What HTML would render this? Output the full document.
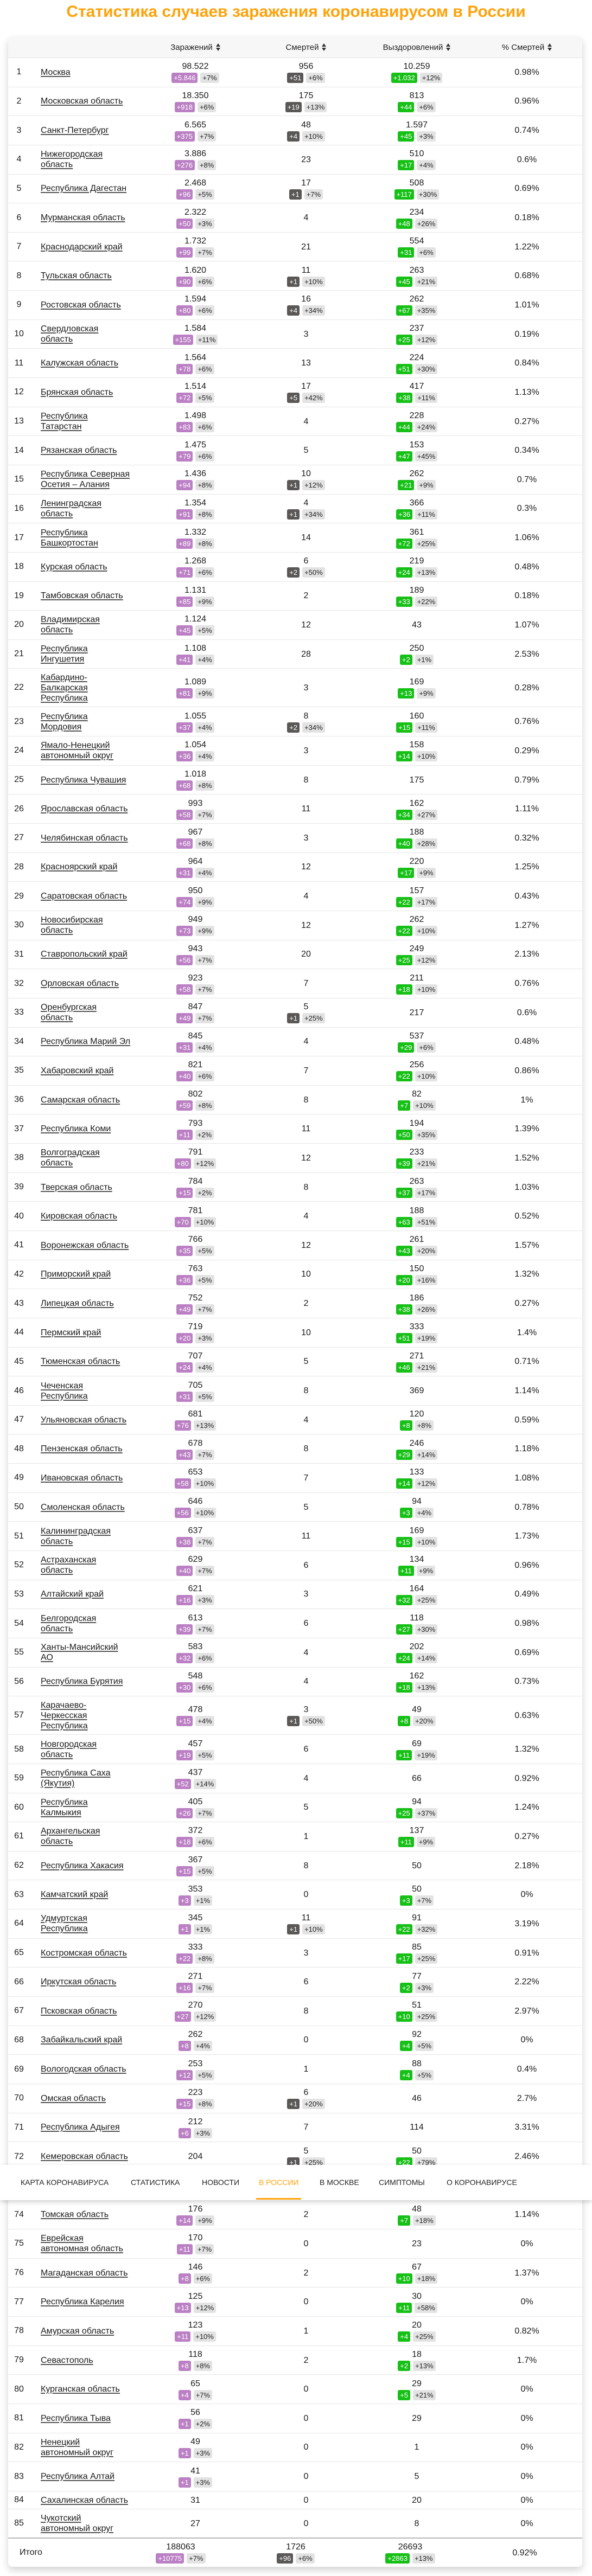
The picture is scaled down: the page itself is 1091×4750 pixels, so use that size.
<!DOCTYPE html>
<html><head><meta charset="utf-8">
<style>
*{margin:0;padding:0;box-sizing:border-box}
html,body{width:1091px;height:4750px;background:#fff;overflow:hidden}
body{position:relative;font-family:"Liberation Sans","Noto Sans CJK SC",sans-serif;color:#1a1a1a;font-size:16px}
h1{position:absolute;top:4px;left:0;width:1091px;text-align:center;font-size:30px;font-weight:bold;color:#ffa20a;line-height:36px}
.card{position:absolute;top:68px;left:15px;width:1058px;background:#fff;border-radius:8px;box-shadow:0 6px 14px rgba(0,0,0,.18);overflow:hidden}
.hd{position:relative;height:39px;background:#f7f7f7;border-bottom:1px solid #e4e4e4}
.hd b{position:absolute;top:0;bottom:0;width:200px;display:flex;align-items:center;justify-content:center;font-weight:normal;font-size:15px;color:#222}
.ar{display:inline-block;margin-left:6px;width:8px;height:14px;position:relative}
.ar:before,.ar:after{content:"";position:absolute;left:0;border-left:4px solid transparent;border-right:4px solid transparent}
.ar:before{top:0;border-bottom:6px solid #333}
.ar:after{bottom:0;border-top:6px solid #333}
.r{position:relative;height:53.65px;border-bottom:1px solid #e6e6e6}
.r3{height:71px}
.r84{height:33.3px}
.r85{height:52px}
i,b,s,u,em{font-style:normal;font-weight:normal;text-decoration:none}
.r>i{position:absolute;left:0;width:40px;top:0;bottom:0;display:flex;align-items:center;justify-content:center}
.r>a{position:absolute;left:60px;top:0;bottom:0;display:flex;align-items:center;line-height:19px;white-space:nowrap;color:#1a1a1a;text-decoration:underline;text-decoration-thickness:2px;text-decoration-color:#555;text-underline-offset:2px}
.r>b,.hd b{position:absolute;top:0;bottom:0;width:200px;display:flex;flex-direction:column;align-items:center;justify-content:center}
.hd b{flex-direction:row}
.c1{left:245px}.c2{left:449px}.c3{left:653px}.c4{left:856px}
s{line-height:19px;white-space:nowrap}
u{display:flex;gap:5px;margin-top:2px}
em{display:block;height:19px;line-height:19px;padding:0 4px;border-radius:3px;font-size:13px;background:#e3e3e3;color:#222}
em.p{background:#bb80c4;color:#fff}
em.d{background:#5a5757;color:#fff}
em.g{background:#16c016;color:#fff}
.tot{position:relative;height:54px;border-top:2px solid #b8b8b8}
.tot>i{position:absolute;left:21px;top:0;bottom:0;display:flex;align-items:center}
.tot>b{position:absolute;top:0;bottom:0;width:200px;display:flex;flex-direction:column;align-items:center;justify-content:center}
.t1{left:218px}.t2{left:430px}.t3{left:641px}.t4{left:852px}
.nav{position:absolute;left:0;top:3992px;width:1091px;height:65px;background:#fff;box-shadow:0 3px 8px rgba(0,0,0,.2)}
.nav span{position:absolute;top:22px;font-size:14px;line-height:20px;color:#222;white-space:nowrap}
.nav .on{color:#ffa20a}
.ul{position:absolute;left:472px;top:61px;width:83px;height:3px;background:#ffa20a}
</style></head><body>
<h1>Статистика случаев заражения коронавирусом в России</h1>
<div class="card">
<div class="hd"><b class="c1">Заражений<span class="ar"></span></b><b class="c2">Смертей<span class="ar"></span></b><b class="c3">Выздоровлений<span class="ar"></span></b><b class="c4">% Смертей<span class="ar"></span></b></div>

<div class="r"><i>1</i><a>Москва</a><b class="c1"><s>98.522</s><u><em class="p">+5.846</em><em>+7%</em></u></b><b class="c2"><s>956</s><u><em class="d">+51</em><em>+6%</em></u></b><b class="c3"><s>10.259</s><u><em class="g">+1.032</em><em>+12%</em></u></b><b class="c4"><s>0.98%</s></b></div>
<div class="r"><i>2</i><a>Московская область</a><b class="c1"><s>18.350</s><u><em class="p">+918</em><em>+6%</em></u></b><b class="c2"><s>175</s><u><em class="d">+19</em><em>+13%</em></u></b><b class="c3"><s>813</s><u><em class="g">+44</em><em>+6%</em></u></b><b class="c4"><s>0.96%</s></b></div>
<div class="r"><i>3</i><a>Санкт-Петербург</a><b class="c1"><s>6.565</s><u><em class="p">+375</em><em>+7%</em></u></b><b class="c2"><s>48</s><u><em class="d">+4</em><em>+10%</em></u></b><b class="c3"><s>1.597</s><u><em class="g">+45</em><em>+3%</em></u></b><b class="c4"><s>0.74%</s></b></div>
<div class="r"><i>4</i><a>Нижегородская<br>область</a><b class="c1"><s>3.886</s><u><em class="p">+276</em><em>+8%</em></u></b><b class="c2"><s>23</s></b><b class="c3"><s>510</s><u><em class="g">+17</em><em>+4%</em></u></b><b class="c4"><s>0.6%</s></b></div>
<div class="r"><i>5</i><a>Республика Дагестан</a><b class="c1"><s>2.468</s><u><em class="p">+96</em><em>+5%</em></u></b><b class="c2"><s>17</s><u><em class="d">+1</em><em>+7%</em></u></b><b class="c3"><s>508</s><u><em class="g">+117</em><em>+30%</em></u></b><b class="c4"><s>0.69%</s></b></div>
<div class="r"><i>6</i><a>Мурманская область</a><b class="c1"><s>2.322</s><u><em class="p">+50</em><em>+3%</em></u></b><b class="c2"><s>4</s></b><b class="c3"><s>234</s><u><em class="g">+48</em><em>+26%</em></u></b><b class="c4"><s>0.18%</s></b></div>
<div class="r"><i>7</i><a>Краснодарский край</a><b class="c1"><s>1.732</s><u><em class="p">+99</em><em>+7%</em></u></b><b class="c2"><s>21</s></b><b class="c3"><s>554</s><u><em class="g">+31</em><em>+6%</em></u></b><b class="c4"><s>1.22%</s></b></div>
<div class="r"><i>8</i><a>Тульская область</a><b class="c1"><s>1.620</s><u><em class="p">+90</em><em>+6%</em></u></b><b class="c2"><s>11</s><u><em class="d">+1</em><em>+10%</em></u></b><b class="c3"><s>263</s><u><em class="g">+45</em><em>+21%</em></u></b><b class="c4"><s>0.68%</s></b></div>
<div class="r"><i>9</i><a>Ростовская область</a><b class="c1"><s>1.594</s><u><em class="p">+80</em><em>+6%</em></u></b><b class="c2"><s>16</s><u><em class="d">+4</em><em>+34%</em></u></b><b class="c3"><s>262</s><u><em class="g">+67</em><em>+35%</em></u></b><b class="c4"><s>1.01%</s></b></div>
<div class="r"><i>10</i><a>Свердловская<br>область</a><b class="c1"><s>1.584</s><u><em class="p">+155</em><em>+11%</em></u></b><b class="c2"><s>3</s></b><b class="c3"><s>237</s><u><em class="g">+25</em><em>+12%</em></u></b><b class="c4"><s>0.19%</s></b></div>
<div class="r"><i>11</i><a>Калужская область</a><b class="c1"><s>1.564</s><u><em class="p">+78</em><em>+6%</em></u></b><b class="c2"><s>13</s></b><b class="c3"><s>224</s><u><em class="g">+51</em><em>+30%</em></u></b><b class="c4"><s>0.84%</s></b></div>
<div class="r"><i>12</i><a>Брянская область</a><b class="c1"><s>1.514</s><u><em class="p">+72</em><em>+5%</em></u></b><b class="c2"><s>17</s><u><em class="d">+5</em><em>+42%</em></u></b><b class="c3"><s>417</s><u><em class="g">+38</em><em>+11%</em></u></b><b class="c4"><s>1.13%</s></b></div>
<div class="r"><i>13</i><a>Республика<br>Татарстан</a><b class="c1"><s>1.498</s><u><em class="p">+83</em><em>+6%</em></u></b><b class="c2"><s>4</s></b><b class="c3"><s>228</s><u><em class="g">+44</em><em>+24%</em></u></b><b class="c4"><s>0.27%</s></b></div>
<div class="r"><i>14</i><a>Рязанская область</a><b class="c1"><s>1.475</s><u><em class="p">+79</em><em>+6%</em></u></b><b class="c2"><s>5</s></b><b class="c3"><s>153</s><u><em class="g">+47</em><em>+45%</em></u></b><b class="c4"><s>0.34%</s></b></div>
<div class="r"><i>15</i><a>Республика Северная<br>Осетия – Алания</a><b class="c1"><s>1.436</s><u><em class="p">+94</em><em>+8%</em></u></b><b class="c2"><s>10</s><u><em class="d">+1</em><em>+12%</em></u></b><b class="c3"><s>262</s><u><em class="g">+21</em><em>+9%</em></u></b><b class="c4"><s>0.7%</s></b></div>
<div class="r"><i>16</i><a>Ленинградская<br>область</a><b class="c1"><s>1.354</s><u><em class="p">+91</em><em>+8%</em></u></b><b class="c2"><s>4</s><u><em class="d">+1</em><em>+34%</em></u></b><b class="c3"><s>366</s><u><em class="g">+36</em><em>+11%</em></u></b><b class="c4"><s>0.3%</s></b></div>
<div class="r"><i>17</i><a>Республика<br>Башкортостан</a><b class="c1"><s>1.332</s><u><em class="p">+89</em><em>+8%</em></u></b><b class="c2"><s>14</s></b><b class="c3"><s>361</s><u><em class="g">+72</em><em>+25%</em></u></b><b class="c4"><s>1.06%</s></b></div>
<div class="r"><i>18</i><a>Курская область</a><b class="c1"><s>1.268</s><u><em class="p">+71</em><em>+6%</em></u></b><b class="c2"><s>6</s><u><em class="d">+2</em><em>+50%</em></u></b><b class="c3"><s>219</s><u><em class="g">+24</em><em>+13%</em></u></b><b class="c4"><s>0.48%</s></b></div>
<div class="r"><i>19</i><a>Тамбовская область</a><b class="c1"><s>1.131</s><u><em class="p">+85</em><em>+9%</em></u></b><b class="c2"><s>2</s></b><b class="c3"><s>189</s><u><em class="g">+33</em><em>+22%</em></u></b><b class="c4"><s>0.18%</s></b></div>
<div class="r"><i>20</i><a>Владимирская<br>область</a><b class="c1"><s>1.124</s><u><em class="p">+45</em><em>+5%</em></u></b><b class="c2"><s>12</s></b><b class="c3"><s>43</s></b><b class="c4"><s>1.07%</s></b></div>
<div class="r"><i>21</i><a>Республика<br>Ингушетия</a><b class="c1"><s>1.108</s><u><em class="p">+41</em><em>+4%</em></u></b><b class="c2"><s>28</s></b><b class="c3"><s>250</s><u><em class="g">+2</em><em>+1%</em></u></b><b class="c4"><s>2.53%</s></b></div>
<div class="r r3"><i>22</i><a>Кабардино-<br>Балкарская<br>Республика</a><b class="c1"><s>1.089</s><u><em class="p">+81</em><em>+9%</em></u></b><b class="c2"><s>3</s></b><b class="c3"><s>169</s><u><em class="g">+13</em><em>+9%</em></u></b><b class="c4"><s>0.28%</s></b></div>
<div class="r"><i>23</i><a>Республика<br>Мордовия</a><b class="c1"><s>1.055</s><u><em class="p">+37</em><em>+4%</em></u></b><b class="c2"><s>8</s><u><em class="d">+2</em><em>+34%</em></u></b><b class="c3"><s>160</s><u><em class="g">+15</em><em>+11%</em></u></b><b class="c4"><s>0.76%</s></b></div>
<div class="r"><i>24</i><a>Ямало-Ненецкий<br>автономный округ</a><b class="c1"><s>1.054</s><u><em class="p">+36</em><em>+4%</em></u></b><b class="c2"><s>3</s></b><b class="c3"><s>158</s><u><em class="g">+14</em><em>+10%</em></u></b><b class="c4"><s>0.29%</s></b></div>
<div class="r"><i>25</i><a>Республика Чувашия</a><b class="c1"><s>1.018</s><u><em class="p">+68</em><em>+8%</em></u></b><b class="c2"><s>8</s></b><b class="c3"><s>175</s></b><b class="c4"><s>0.79%</s></b></div>
<div class="r"><i>26</i><a>Ярославская область</a><b class="c1"><s>993</s><u><em class="p">+58</em><em>+7%</em></u></b><b class="c2"><s>11</s></b><b class="c3"><s>162</s><u><em class="g">+34</em><em>+27%</em></u></b><b class="c4"><s>1.11%</s></b></div>
<div class="r"><i>27</i><a>Челябинская область</a><b class="c1"><s>967</s><u><em class="p">+68</em><em>+8%</em></u></b><b class="c2"><s>3</s></b><b class="c3"><s>188</s><u><em class="g">+40</em><em>+28%</em></u></b><b class="c4"><s>0.32%</s></b></div>
<div class="r"><i>28</i><a>Красноярский край</a><b class="c1"><s>964</s><u><em class="p">+31</em><em>+4%</em></u></b><b class="c2"><s>12</s></b><b class="c3"><s>220</s><u><em class="g">+17</em><em>+9%</em></u></b><b class="c4"><s>1.25%</s></b></div>
<div class="r"><i>29</i><a>Саратовская область</a><b class="c1"><s>950</s><u><em class="p">+74</em><em>+9%</em></u></b><b class="c2"><s>4</s></b><b class="c3"><s>157</s><u><em class="g">+22</em><em>+17%</em></u></b><b class="c4"><s>0.43%</s></b></div>
<div class="r"><i>30</i><a>Новосибирская<br>область</a><b class="c1"><s>949</s><u><em class="p">+73</em><em>+9%</em></u></b><b class="c2"><s>12</s></b><b class="c3"><s>262</s><u><em class="g">+22</em><em>+10%</em></u></b><b class="c4"><s>1.27%</s></b></div>
<div class="r"><i>31</i><a>Ставропольский край</a><b class="c1"><s>943</s><u><em class="p">+56</em><em>+7%</em></u></b><b class="c2"><s>20</s></b><b class="c3"><s>249</s><u><em class="g">+25</em><em>+12%</em></u></b><b class="c4"><s>2.13%</s></b></div>
<div class="r"><i>32</i><a>Орловская область</a><b class="c1"><s>923</s><u><em class="p">+58</em><em>+7%</em></u></b><b class="c2"><s>7</s></b><b class="c3"><s>211</s><u><em class="g">+18</em><em>+10%</em></u></b><b class="c4"><s>0.76%</s></b></div>
<div class="r"><i>33</i><a>Оренбургская<br>область</a><b class="c1"><s>847</s><u><em class="p">+49</em><em>+7%</em></u></b><b class="c2"><s>5</s><u><em class="d">+1</em><em>+25%</em></u></b><b class="c3"><s>217</s></b><b class="c4"><s>0.6%</s></b></div>
<div class="r"><i>34</i><a>Республика Марий Эл</a><b class="c1"><s>845</s><u><em class="p">+31</em><em>+4%</em></u></b><b class="c2"><s>4</s></b><b class="c3"><s>537</s><u><em class="g">+29</em><em>+6%</em></u></b><b class="c4"><s>0.48%</s></b></div>
<div class="r"><i>35</i><a>Хабаровский край</a><b class="c1"><s>821</s><u><em class="p">+40</em><em>+6%</em></u></b><b class="c2"><s>7</s></b><b class="c3"><s>256</s><u><em class="g">+22</em><em>+10%</em></u></b><b class="c4"><s>0.86%</s></b></div>
<div class="r"><i>36</i><a>Самарская область</a><b class="c1"><s>802</s><u><em class="p">+59</em><em>+8%</em></u></b><b class="c2"><s>8</s></b><b class="c3"><s>82</s><u><em class="g">+7</em><em>+10%</em></u></b><b class="c4"><s>1%</s></b></div>
<div class="r"><i>37</i><a>Республика Коми</a><b class="c1"><s>793</s><u><em class="p">+11</em><em>+2%</em></u></b><b class="c2"><s>11</s></b><b class="c3"><s>194</s><u><em class="g">+50</em><em>+35%</em></u></b><b class="c4"><s>1.39%</s></b></div>
<div class="r"><i>38</i><a>Волгоградская<br>область</a><b class="c1"><s>791</s><u><em class="p">+80</em><em>+12%</em></u></b><b class="c2"><s>12</s></b><b class="c3"><s>233</s><u><em class="g">+39</em><em>+21%</em></u></b><b class="c4"><s>1.52%</s></b></div>
<div class="r"><i>39</i><a>Тверская область</a><b class="c1"><s>784</s><u><em class="p">+15</em><em>+2%</em></u></b><b class="c2"><s>8</s></b><b class="c3"><s>263</s><u><em class="g">+37</em><em>+17%</em></u></b><b class="c4"><s>1.03%</s></b></div>
<div class="r"><i>40</i><a>Кировская область</a><b class="c1"><s>781</s><u><em class="p">+70</em><em>+10%</em></u></b><b class="c2"><s>4</s></b><b class="c3"><s>188</s><u><em class="g">+63</em><em>+51%</em></u></b><b class="c4"><s>0.52%</s></b></div>
<div class="r"><i>41</i><a>Воронежская область</a><b class="c1"><s>766</s><u><em class="p">+35</em><em>+5%</em></u></b><b class="c2"><s>12</s></b><b class="c3"><s>261</s><u><em class="g">+43</em><em>+20%</em></u></b><b class="c4"><s>1.57%</s></b></div>
<div class="r"><i>42</i><a>Приморский край</a><b class="c1"><s>763</s><u><em class="p">+36</em><em>+5%</em></u></b><b class="c2"><s>10</s></b><b class="c3"><s>150</s><u><em class="g">+20</em><em>+16%</em></u></b><b class="c4"><s>1.32%</s></b></div>
<div class="r"><i>43</i><a>Липецкая область</a><b class="c1"><s>752</s><u><em class="p">+49</em><em>+7%</em></u></b><b class="c2"><s>2</s></b><b class="c3"><s>186</s><u><em class="g">+38</em><em>+26%</em></u></b><b class="c4"><s>0.27%</s></b></div>
<div class="r"><i>44</i><a>Пермский край</a><b class="c1"><s>719</s><u><em class="p">+20</em><em>+3%</em></u></b><b class="c2"><s>10</s></b><b class="c3"><s>333</s><u><em class="g">+51</em><em>+19%</em></u></b><b class="c4"><s>1.4%</s></b></div>
<div class="r"><i>45</i><a>Тюменская область</a><b class="c1"><s>707</s><u><em class="p">+24</em><em>+4%</em></u></b><b class="c2"><s>5</s></b><b class="c3"><s>271</s><u><em class="g">+46</em><em>+21%</em></u></b><b class="c4"><s>0.71%</s></b></div>
<div class="r"><i>46</i><a>Чеченская<br>Республика</a><b class="c1"><s>705</s><u><em class="p">+31</em><em>+5%</em></u></b><b class="c2"><s>8</s></b><b class="c3"><s>369</s></b><b class="c4"><s>1.14%</s></b></div>
<div class="r"><i>47</i><a>Ульяновская область</a><b class="c1"><s>681</s><u><em class="p">+76</em><em>+13%</em></u></b><b class="c2"><s>4</s></b><b class="c3"><s>120</s><u><em class="g">+8</em><em>+8%</em></u></b><b class="c4"><s>0.59%</s></b></div>
<div class="r"><i>48</i><a>Пензенская область</a><b class="c1"><s>678</s><u><em class="p">+43</em><em>+7%</em></u></b><b class="c2"><s>8</s></b><b class="c3"><s>246</s><u><em class="g">+29</em><em>+14%</em></u></b><b class="c4"><s>1.18%</s></b></div>
<div class="r"><i>49</i><a>Ивановская область</a><b class="c1"><s>653</s><u><em class="p">+58</em><em>+10%</em></u></b><b class="c2"><s>7</s></b><b class="c3"><s>133</s><u><em class="g">+14</em><em>+12%</em></u></b><b class="c4"><s>1.08%</s></b></div>
<div class="r"><i>50</i><a>Смоленская область</a><b class="c1"><s>646</s><u><em class="p">+56</em><em>+10%</em></u></b><b class="c2"><s>5</s></b><b class="c3"><s>94</s><u><em class="g">+3</em><em>+4%</em></u></b><b class="c4"><s>0.78%</s></b></div>
<div class="r"><i>51</i><a>Калининградская<br>область</a><b class="c1"><s>637</s><u><em class="p">+38</em><em>+7%</em></u></b><b class="c2"><s>11</s></b><b class="c3"><s>169</s><u><em class="g">+15</em><em>+10%</em></u></b><b class="c4"><s>1.73%</s></b></div>
<div class="r"><i>52</i><a>Астраханская<br>область</a><b class="c1"><s>629</s><u><em class="p">+40</em><em>+7%</em></u></b><b class="c2"><s>6</s></b><b class="c3"><s>134</s><u><em class="g">+11</em><em>+9%</em></u></b><b class="c4"><s>0.96%</s></b></div>
<div class="r"><i>53</i><a>Алтайский край</a><b class="c1"><s>621</s><u><em class="p">+16</em><em>+3%</em></u></b><b class="c2"><s>3</s></b><b class="c3"><s>164</s><u><em class="g">+32</em><em>+25%</em></u></b><b class="c4"><s>0.49%</s></b></div>
<div class="r"><i>54</i><a>Белгородская<br>область</a><b class="c1"><s>613</s><u><em class="p">+39</em><em>+7%</em></u></b><b class="c2"><s>6</s></b><b class="c3"><s>118</s><u><em class="g">+27</em><em>+30%</em></u></b><b class="c4"><s>0.98%</s></b></div>
<div class="r"><i>55</i><a>Ханты-Мансийский<br>АО</a><b class="c1"><s>583</s><u><em class="p">+32</em><em>+6%</em></u></b><b class="c2"><s>4</s></b><b class="c3"><s>202</s><u><em class="g">+24</em><em>+14%</em></u></b><b class="c4"><s>0.69%</s></b></div>
<div class="r"><i>56</i><a>Республика Бурятия</a><b class="c1"><s>548</s><u><em class="p">+30</em><em>+6%</em></u></b><b class="c2"><s>4</s></b><b class="c3"><s>162</s><u><em class="g">+18</em><em>+13%</em></u></b><b class="c4"><s>0.73%</s></b></div>
<div class="r r3"><i>57</i><a>Карачаево-<br>Черкесская<br>Республика</a><b class="c1"><s>478</s><u><em class="p">+15</em><em>+4%</em></u></b><b class="c2"><s>3</s><u><em class="d">+1</em><em>+50%</em></u></b><b class="c3"><s>49</s><u><em class="g">+8</em><em>+20%</em></u></b><b class="c4"><s>0.63%</s></b></div>
<div class="r"><i>58</i><a>Новгородская<br>область</a><b class="c1"><s>457</s><u><em class="p">+19</em><em>+5%</em></u></b><b class="c2"><s>6</s></b><b class="c3"><s>69</s><u><em class="g">+11</em><em>+19%</em></u></b><b class="c4"><s>1.32%</s></b></div>
<div class="r"><i>59</i><a>Республика Саха<br>(Якутия)</a><b class="c1"><s>437</s><u><em class="p">+52</em><em>+14%</em></u></b><b class="c2"><s>4</s></b><b class="c3"><s>66</s></b><b class="c4"><s>0.92%</s></b></div>
<div class="r"><i>60</i><a>Республика<br>Калмыкия</a><b class="c1"><s>405</s><u><em class="p">+26</em><em>+7%</em></u></b><b class="c2"><s>5</s></b><b class="c3"><s>94</s><u><em class="g">+25</em><em>+37%</em></u></b><b class="c4"><s>1.24%</s></b></div>
<div class="r"><i>61</i><a>Архангельская<br>область</a><b class="c1"><s>372</s><u><em class="p">+18</em><em>+6%</em></u></b><b class="c2"><s>1</s></b><b class="c3"><s>137</s><u><em class="g">+11</em><em>+9%</em></u></b><b class="c4"><s>0.27%</s></b></div>
<div class="r"><i>62</i><a>Республика Хакасия</a><b class="c1"><s>367</s><u><em class="p">+15</em><em>+5%</em></u></b><b class="c2"><s>8</s></b><b class="c3"><s>50</s></b><b class="c4"><s>2.18%</s></b></div>
<div class="r"><i>63</i><a>Камчатский край</a><b class="c1"><s>353</s><u><em class="p">+3</em><em>+1%</em></u></b><b class="c2"><s>0</s></b><b class="c3"><s>50</s><u><em class="g">+3</em><em>+7%</em></u></b><b class="c4"><s>0%</s></b></div>
<div class="r"><i>64</i><a>Удмуртская<br>Республика</a><b class="c1"><s>345</s><u><em class="p">+1</em><em>+1%</em></u></b><b class="c2"><s>11</s><u><em class="d">+1</em><em>+10%</em></u></b><b class="c3"><s>91</s><u><em class="g">+22</em><em>+32%</em></u></b><b class="c4"><s>3.19%</s></b></div>
<div class="r"><i>65</i><a>Костромская область</a><b class="c1"><s>333</s><u><em class="p">+22</em><em>+8%</em></u></b><b class="c2"><s>3</s></b><b class="c3"><s>85</s><u><em class="g">+17</em><em>+25%</em></u></b><b class="c4"><s>0.91%</s></b></div>
<div class="r"><i>66</i><a>Иркутская область</a><b class="c1"><s>271</s><u><em class="p">+16</em><em>+7%</em></u></b><b class="c2"><s>6</s></b><b class="c3"><s>77</s><u><em class="g">+2</em><em>+3%</em></u></b><b class="c4"><s>2.22%</s></b></div>
<div class="r"><i>67</i><a>Псковская область</a><b class="c1"><s>270</s><u><em class="p">+27</em><em>+12%</em></u></b><b class="c2"><s>8</s></b><b class="c3"><s>51</s><u><em class="g">+10</em><em>+25%</em></u></b><b class="c4"><s>2.97%</s></b></div>
<div class="r"><i>68</i><a>Забайкальский край</a><b class="c1"><s>262</s><u><em class="p">+8</em><em>+4%</em></u></b><b class="c2"><s>0</s></b><b class="c3"><s>92</s><u><em class="g">+4</em><em>+5%</em></u></b><b class="c4"><s>0%</s></b></div>
<div class="r"><i>69</i><a>Вологодская область</a><b class="c1"><s>253</s><u><em class="p">+12</em><em>+5%</em></u></b><b class="c2"><s>1</s></b><b class="c3"><s>88</s><u><em class="g">+4</em><em>+5%</em></u></b><b class="c4"><s>0.4%</s></b></div>
<div class="r"><i>70</i><a>Омская область</a><b class="c1"><s>223</s><u><em class="p">+15</em><em>+8%</em></u></b><b class="c2"><s>6</s><u><em class="d">+1</em><em>+20%</em></u></b><b class="c3"><s>46</s></b><b class="c4"><s>2.7%</s></b></div>
<div class="r"><i>71</i><a>Республика Адыгея</a><b class="c1"><s>212</s><u><em class="p">+6</em><em>+3%</em></u></b><b class="c2"><s>7</s></b><b class="c3"><s>114</s></b><b class="c4"><s>3.31%</s></b></div>
<div class="r"><i>72</i><a>Кемеровская область</a><b class="c1"><s>204</s></b><b class="c2"><s>5</s><u><em class="d">+1</em><em>+25%</em></u></b><b class="c3"><s>50</s><u><em class="g">+22</em><em>+79%</em></u></b><b class="c4"><s>2.46%</s></b></div>
<div class="r"><i>73</i><a>Республика Крым</a><b class="c1"><s>190</s><u><em class="p">+9</em><em>+5%</em></u></b><b class="c2"><s>1</s></b><b class="c3"><s>40</s><u><em class="g">+5</em><em>+14%</em></u></b><b class="c4"><s>0.53%</s></b></div>
<div class="r"><i>74</i><a>Томская область</a><b class="c1"><s>176</s><u><em class="p">+14</em><em>+9%</em></u></b><b class="c2"><s>2</s></b><b class="c3"><s>48</s><u><em class="g">+7</em><em>+18%</em></u></b><b class="c4"><s>1.14%</s></b></div>
<div class="r"><i>75</i><a>Еврейская<br>автономная область</a><b class="c1"><s>170</s><u><em class="p">+11</em><em>+7%</em></u></b><b class="c2"><s>0</s></b><b class="c3"><s>23</s></b><b class="c4"><s>0%</s></b></div>
<div class="r"><i>76</i><a>Магаданская область</a><b class="c1"><s>146</s><u><em class="p">+8</em><em>+6%</em></u></b><b class="c2"><s>2</s></b><b class="c3"><s>67</s><u><em class="g">+10</em><em>+18%</em></u></b><b class="c4"><s>1.37%</s></b></div>
<div class="r"><i>77</i><a>Республика Карелия</a><b class="c1"><s>125</s><u><em class="p">+13</em><em>+12%</em></u></b><b class="c2"><s>0</s></b><b class="c3"><s>30</s><u><em class="g">+11</em><em>+58%</em></u></b><b class="c4"><s>0%</s></b></div>
<div class="r"><i>78</i><a>Амурская область</a><b class="c1"><s>123</s><u><em class="p">+11</em><em>+10%</em></u></b><b class="c2"><s>1</s></b><b class="c3"><s>20</s><u><em class="g">+4</em><em>+25%</em></u></b><b class="c4"><s>0.82%</s></b></div>
<div class="r"><i>79</i><a>Севастополь</a><b class="c1"><s>118</s><u><em class="p">+8</em><em>+8%</em></u></b><b class="c2"><s>2</s></b><b class="c3"><s>18</s><u><em class="g">+2</em><em>+13%</em></u></b><b class="c4"><s>1.7%</s></b></div>
<div class="r"><i>80</i><a>Курганская область</a><b class="c1"><s>65</s><u><em class="p">+4</em><em>+7%</em></u></b><b class="c2"><s>0</s></b><b class="c3"><s>29</s><u><em class="g">+5</em><em>+21%</em></u></b><b class="c4"><s>0%</s></b></div>
<div class="r"><i>81</i><a>Республика Тыва</a><b class="c1"><s>56</s><u><em class="p">+1</em><em>+2%</em></u></b><b class="c2"><s>0</s></b><b class="c3"><s>29</s></b><b class="c4"><s>0%</s></b></div>
<div class="r"><i>82</i><a>Ненецкий<br>автономный округ</a><b class="c1"><s>49</s><u><em class="p">+1</em><em>+3%</em></u></b><b class="c2"><s>0</s></b><b class="c3"><s>1</s></b><b class="c4"><s>0%</s></b></div>
<div class="r"><i>83</i><a>Республика Алтай</a><b class="c1"><s>41</s><u><em class="p">+1</em><em>+3%</em></u></b><b class="c2"><s>0</s></b><b class="c3"><s>5</s></b><b class="c4"><s>0%</s></b></div>
<div class="r r84"><i>84</i><a>Сахалинская область</a><b class="c1"><s>31</s></b><b class="c2"><s>0</s></b><b class="c3"><s>20</s></b><b class="c4"><s>0%</s></b></div>
<div class="r r85" style="border-bottom:none"><i>85</i><a>Чукотский<br>автономный округ</a><b class="c1"><s>27</s></b><b class="c2"><s>0</s></b><b class="c3"><s>8</s></b><b class="c4"><s>0%</s></b></div>
<div class="tot"><i>Итого</i><b class="t1"><s>188063</s><u><em class="p">+10775</em><em>+7%</em></u></b><b class="t2"><s>1726</s><u><em class="d">+96</em><em>+6%</em></u></b><b class="t3"><s>26693</s><u><em class="g">+2863</em><em>+13%</em></u></b><b class="t4"><s>0.92%</s></b></div>
</div>

<div class="nav">
<span style="left:38px">КАРТА КОРОНАВИРУСА</span>
<span style="left:241px">СТАТИСТИКА</span>
<span style="left:372px">НОВОСТИ</span>
<span class="on" style="left:477px">В РОССИИ</span>
<span style="left:589px">В МОСКВЕ</span>
<span style="left:698px">СИМПТОМЫ</span>
<span style="left:823px">О КОРОНАВИРУСЕ</span>
<div class="ul"></div>
</div>
</body></html>
